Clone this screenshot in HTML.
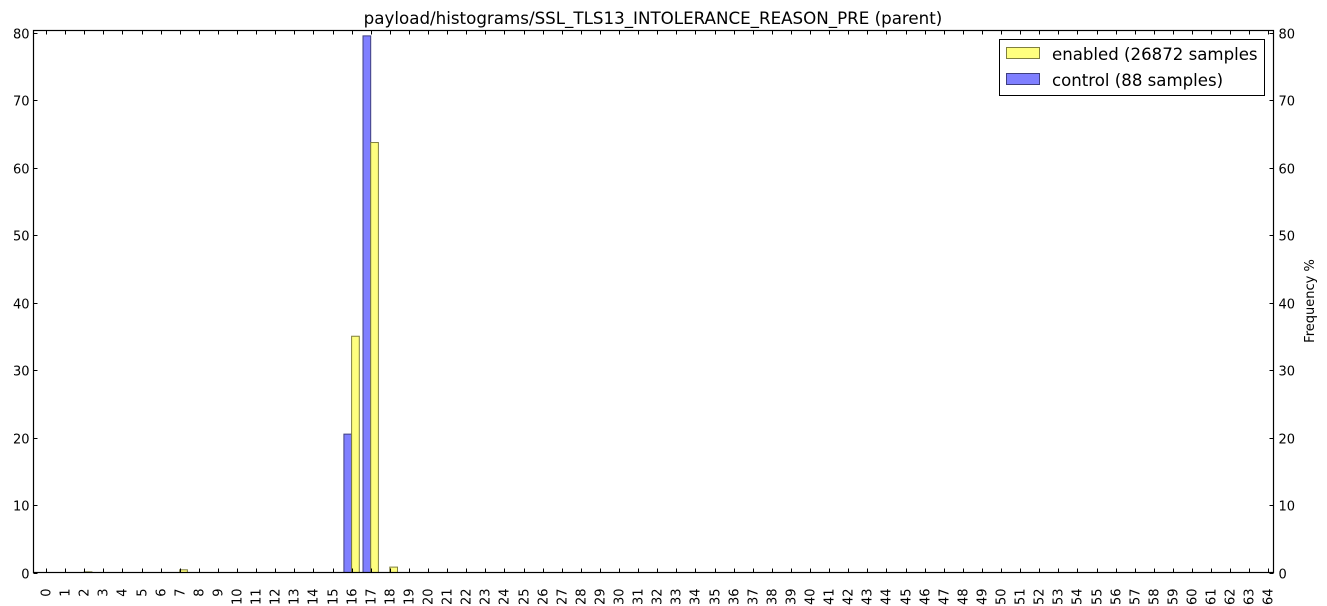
<!DOCTYPE html>
<html><head><meta charset="utf-8"><style>
body{margin:0;background:#fff;}
svg{display:block;font-family:"DejaVu Sans","Liberation Sans",sans-serif;}
</style></head><body>
<svg id="chart" width="1327" height="606">
<text x="653" y="24" font-size="16.7" text-anchor="middle">payload/histograms/SSL_TLS13_INTOLERANCE_REASON_PRE (parent)</text>
<text transform="translate(1314,301) rotate(-90)" font-size="13" text-anchor="middle">Frequency %</text>
<g id="bars"></g>
<g id="axes"></g>
<g>
<rect x="999.5" y="39.5" width="265" height="56" fill="#fff" stroke="#000" stroke-width="1"/>
<rect x="1006.5" y="47.5" width="33" height="11" fill="#ffff7f" stroke="#7f7f3f"/>
<text x="1052" y="60" font-size="16.6">enabled (26872 samples</text>
<rect x="1006.5" y="73.5" width="33" height="11" fill="#7f7fff" stroke="#3f3f7f"/>
<text x="1052" y="86" font-size="16.6">control (88 samples)</text>
</g>
</svg>
<script>
const categories = Array.from({length:65},(_, i)=>i);
const enabledCats = [2, 7, 16, 17, 18];
const enabledVals = [0.1, 0.4, 35.0, 63.7, 0.8];
const controlCats = [16, 17];
const controlVals = [20.5, 79.5];
const yTicks = [0,10,20,30,40,50,60,70,80];

const NS='http://www.w3.org/2000/svg';
const L=33.5,R=1273.5,T=30.5,B=572.5;
const x0=46, dx=19.1, bw=7.7;
const xs=i=>x0+dx*i;
const ys=v=>572.5-v*(540/80);
function mk(tag,attrs,parent){const e=document.createElementNS(NS,tag);for(const k in attrs)e.setAttribute(k,attrs[k]);parent.appendChild(e);return e;}
const bars=document.getElementById('bars'), axes=document.getElementById('axes');
controlCats.forEach((c,i)=>{
  const r=mk('rect',{x:xs(c)-bw,y:ys(controlVals[i]),width:bw,height:B-ys(controlVals[i]),fill:'#7f7fff',stroke:'#3f3f7f','stroke-width':1},bars);
  
  
});
enabledCats.forEach((c,i)=>{
  const r=mk('rect',{x:xs(c),y:ys(enabledVals[i]),width:bw,height:B-ys(enabledVals[i]),fill:'#ffff7f',stroke:'#7f7f3f','stroke-width':1},bars);
  
  
});
const frame=mk('rect',{x:L,y:T,width:R-L,height:B-T,fill:'none',stroke:'#000','stroke-width':1.2},axes);


categories.forEach(c=>{
  const x=Math.round(xs(c))+0.5;
  mk('line',{x1:x,x2:x,y1:B,y2:B-4,stroke:'#000'},axes);
  mk('line',{x1:x,x2:x,y1:T,y2:T+4,stroke:'#000'},axes);
  const t=mk('text',{transform:`translate(${x+4},${B+16}) rotate(-90)`,'font-size':13,'text-anchor':'end'},axes);
  t.textContent=c;
  
  
});
yTicks.forEach(v=>{
  const y=Math.round(ys(v))+0.5;
  mk('line',{x1:L,x2:L+4,y1:y,y2:y,stroke:'#000'},axes);
  mk('line',{x1:R,x2:R-4,y1:y,y2:y,stroke:'#000'},axes);
  const t=mk('text',{x:L-4,y:y+5,'font-size':13,'text-anchor':'end'},axes);
  t.textContent=v;
  
  
  const t2=mk('text',{x:R+5,y:y+5,'font-size':13,'text-anchor':'start'},axes);
  t2.textContent=v;
  
  
});
</script>
</body></html>
